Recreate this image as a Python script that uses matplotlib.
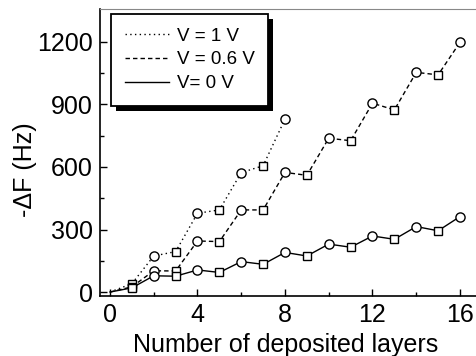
import matplotlib
matplotlib.use("Agg")
import matplotlib.pyplot as plt
from matplotlib.patches import Rectangle
from matplotlib.transforms import IdentityTransform
from matplotlib.lines import Line2D
import numpy as np

plt.rcParams['font.family'] = ['Liberation Sans', 'DejaVu Sans']

layers_0 = list(range(0, 17))
v0 = [0, 20, 78, 76, 106, 94, 146, 133, 190, 173, 230, 215, 269, 253, 314, 294, 362]
layers_06 = list(range(0, 17))
v06 = [0, 25, 102, 101, 245, 242, 394, 394, 574, 560, 738, 726, 906, 874, 1054, 1042, 1198]
layers_1 = list(range(0, 9))
v1 = [0, 40, 173, 194, 378, 394, 573, 606, 830]

labels = ["V = 1 V", "V = 0.6 V", "V= 0 V"]
xticks = [0, 4, 8, 12, 16]
yticks = [0, 300, 600, 900, 1200]

W, H = 476, 356
fig = plt.figure(figsize=(W / 100, H / 100), dpi=100)
ax_l, ax_r, ax_b, ax_t = 100, 486, 296, 9
ax = fig.add_axes([ax_l / W, (H - ax_b) / H, (ax_r - ax_l) / W, (ax_b - ax_t) / H])

lw = 1.0
styles = {
    'dot': dict(linestyle=(0, (1, 2.4)), color='black', lw=lw),
    'dash': dict(linestyle=(0, (3.2, 2.2)), color='black', lw=lw),
    'solid': dict(linestyle='-', color='black', lw=lw),
}

series = [(layers_1, v1, 'dot'), (layers_06, v06, 'dash'), (layers_0, v0, 'solid')]
for xs, ys, st in series:
    ax.plot(xs, ys, **styles[st], zorder=2)
    xs = np.array(xs); ys = np.array(ys)
    even = (xs % 2 == 0) & (xs > 0)
    odd = xs % 2 == 1
    ax.plot(xs[even], ys[even], 'o', ms=6.6, mfc='white', mec='black', mew=1.0, ls='none', zorder=3)
    ax.plot(xs[odd], ys[odd], 's', ms=6.0, mfc='white', mec='black', mew=1.0, ls='none', zorder=3)

ax.set_xlim(-0.457, (ax_r - 110) / 21.875)
ax.set_ylim(-19, 1358)
ax.set_xticks(xticks)
ax.set_xticks([2, 6, 10, 14], minor=True)
ax.set_yticks(yticks)
ax.set_yticks([150, 450, 750, 1050], minor=True)
ax.tick_params(which='both', direction='in', labelsize=18, width=1.0)
ax.tick_params(which='major', length=5, pad=5)
ax.tick_params(which='minor', length=3)
ax.spines['right'].set_visible(False)
ax.spines['top'].set_linewidth(0.8)
ax.spines['top'].set_color('#888888')
ax.spines['left'].set_linewidth(1.2)
ax.spines['bottom'].set_linewidth(1.2)

ax.set_xlabel("Number of deposited layers", fontsize=18)
ax.set_ylabel("-\u0394F (Hz)", fontsize=18)
axw, axh = ax_r - ax_l, ax_b - ax_t
ax.xaxis.set_label_coords((286 - ax_l) / axw, (ax_b - 333) / axh)
ax.yaxis.set_label_coords((37 - ax_l) / axw, (ax_b - 170) / axh)

handles = [Line2D([], [], **styles['dot']), Line2D([], [], **styles['dash']), Line2D([], [], **styles['solid'])]
leg = ax.legend(handles, labels, loc='upper left',
                bbox_to_anchor=((111 - ax_l) / axw, (ax_b - 14) / axh),
                borderaxespad=0, fontsize=13.5, handlelength=2.35, handletextpad=0.45,
                labelspacing=0.36, borderpad=0.72, fancybox=False, frameon=True, framealpha=1)
leg.get_frame().set_edgecolor('black')
leg.get_frame().set_facecolor('white')
leg.get_frame().set_linewidth(1.3)
leg.set_zorder(6)

fig.canvas.draw()
bb = leg.get_window_extent()
off = 5
shadow = Rectangle((bb.x0 + off, bb.y0 - off), bb.width, bb.height, transform=IdentityTransform(),
                   facecolor='black', edgecolor='none', zorder=5.5, clip_on=False)
ax.add_artist(shadow)

fig.savefig("out.png", dpi=100)
